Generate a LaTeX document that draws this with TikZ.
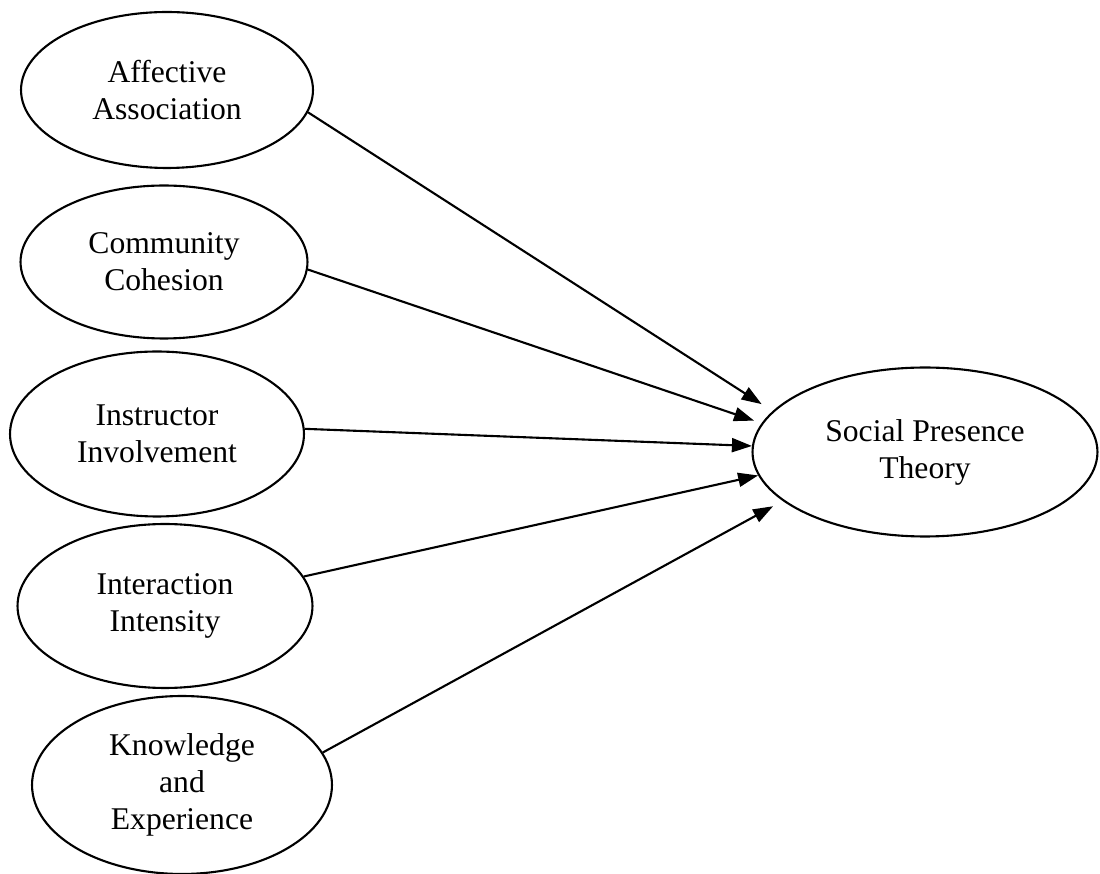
\documentclass[tikz,border=0pt]{standalone}
\usepackage{fontspec}
\setmainfont{Liberation Serif}
\usetikzlibrary{shapes.geometric,arrows.meta}
\tikzset{
  factor/.style={ellipse, draw, line width=1.2pt, inner sep=0pt, align=center,
    font=\fontsize{18}{21}\selectfont},
  link/.style={line width=1.2pt, -{Triangle[length=4mm,width=2.8mm]}}
}
\begin{document}
\begin{tikzpicture}[x=0.02cm, y=-0.02cm]
    \useasboundingbox (0,0) rectangle (1100,874);

    % Các yếu tố
    \node[factor, minimum width=5.84cm, minimum height=3.12cm] (aff) at (167,90) {Affective\\Association};
    \node[factor, minimum width=5.74cm, minimum height=3.06cm] (com) at (164,262) {Community\\Cohesion};
    \node[factor, minimum width=5.88cm, minimum height=3.3cm] (ins) at (157,434) {Instructor\\Involvement};
    \node[factor, minimum width=5.9cm, minimum height=3.28cm] (int) at (165,606) {Interaction\\Intensity};
    \node[factor, minimum width=6cm, minimum height=3.56cm] (kno) at (182,785) {Knowledge\\and\\Experience};

    % Lý thuyết
    \node[factor, minimum width=6.9cm, minimum height=3.38cm] (spt) at (925,452) {Social Presence\\Theory};

    % Các mũi tên
    \foreach \src/\a/\b/\s in {aff/-9/165/2.6mm, com/-3/170/1.6mm, ins/2/178/0mm,
                               int/12/188/0mm, kno/13/199/2.2mm} {
        \draw[link, shorten >=\s] (\src.\a) -- (spt.\b);
    }
\end{tikzpicture}
\end{document}
